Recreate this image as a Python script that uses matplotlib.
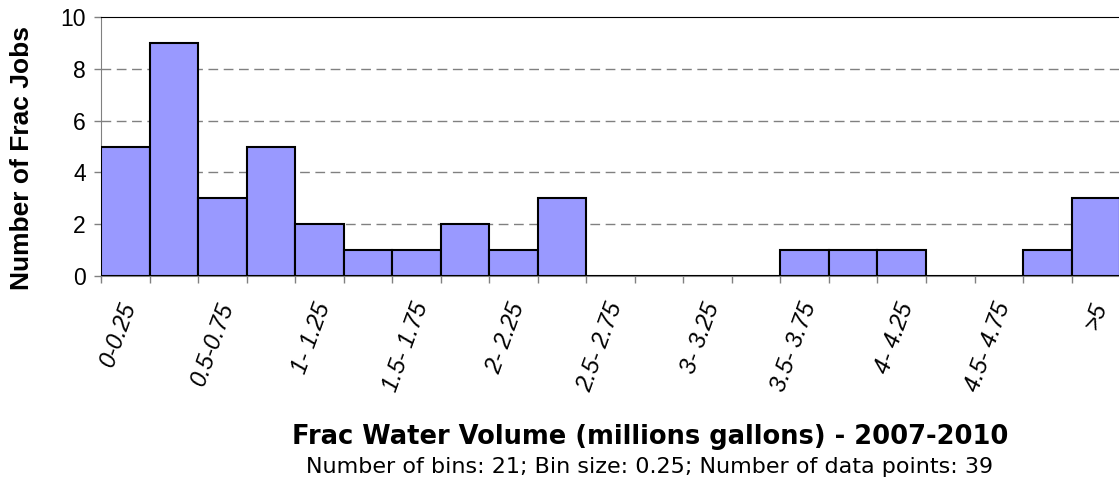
import numpy as np
import matplotlib
matplotlib.use("Agg")
import matplotlib.pyplot as plt

plt.rcParams["font.family"] = ["Liberation Sans", "DejaVu Sans"]

# histogram counts per 0.25 bin
bin_labels = ["0-0.25", "0.25-0.5", "0.5-0.75", "0.75-1", "1- 1.25", "1.25-1.5",
              "1.5- 1.75", "1.75-2", "2- 2.25", "2.25-2.5", "2.5- 2.75", "2.75-3",
              "3- 3.25", "3.25-3.5", "3.5- 3.75", "3.75-4", "4- 4.25", "4.25-4.5",
              "4.5- 4.75", "4.75-5", ">5"]
counts = [5, 9, 3, 5, 2, 1, 1, 2, 1, 3, 0, 0, 0, 0, 1, 1, 1, 0, 0, 1, 3]
yticks = [0, 2, 4, 6, 8, 10]

fig = plt.figure(figsize=(11.19, 4.82), dpi=100)
ax = fig.add_axes([101/1119, 1 - 276/482, 1 - 101/1119 + 0.001, (276 - 17)/482])

x = np.arange(len(counts))
ax.bar(x, counts, width=1.0, color="#9999FF", edgecolor="black", linewidth=1.5, zorder=3)

ax.set_xlim(-0.5, len(counts) - 0.5)
ax.set_ylim(0, 10)
ax.set_yticks(yticks)
ax.tick_params(axis="y", labelsize=16.5, length=5, color="#808080", width=1, pad=6)

# ticks at bin edges, labels at every other bin centre
ax.set_xticks(np.arange(len(counts) + 1) - 0.5)
ax.set_xticklabels([])
ax.tick_params(axis="x", length=5, color="#808080", width=1)
for i in range(0, len(counts), 2):
    ax.text(i - 0.12, -0.9, bin_labels[i], rotation=70, ha="right", va="top",
            rotation_mode="anchor", fontsize=17, style="italic")

for y in yticks[1:-1]:
    ax.axhline(y, color="#808080", linestyle=(0, (7, 4)), linewidth=1, zorder=1)

ax.spines["right"].set_visible(False)
ax.spines["top"].set_color("black")
ax.spines["left"].set_color("#808080")
ax.spines["bottom"].set_color("#808080")

fig.text(0.02, 1 - 158/482, "Number of Frac Jobs", rotation=90, ha="center", va="center",
         fontsize=19, fontweight="bold")
fig.text(650/1119, 1 - 437/482, "Frac Water Volume (millions gallons) - 2007-2010",
         ha="center", va="center", fontsize=18.5, fontweight="bold", family="DejaVu Sans")
fig.text(650/1119, 1 - 467/482, "Number of bins: 21; Bin size: 0.25; Number of data points: 39",
         ha="center", va="center", fontsize=16, family="DejaVu Sans")

fig.savefig("out.png", dpi=100)
